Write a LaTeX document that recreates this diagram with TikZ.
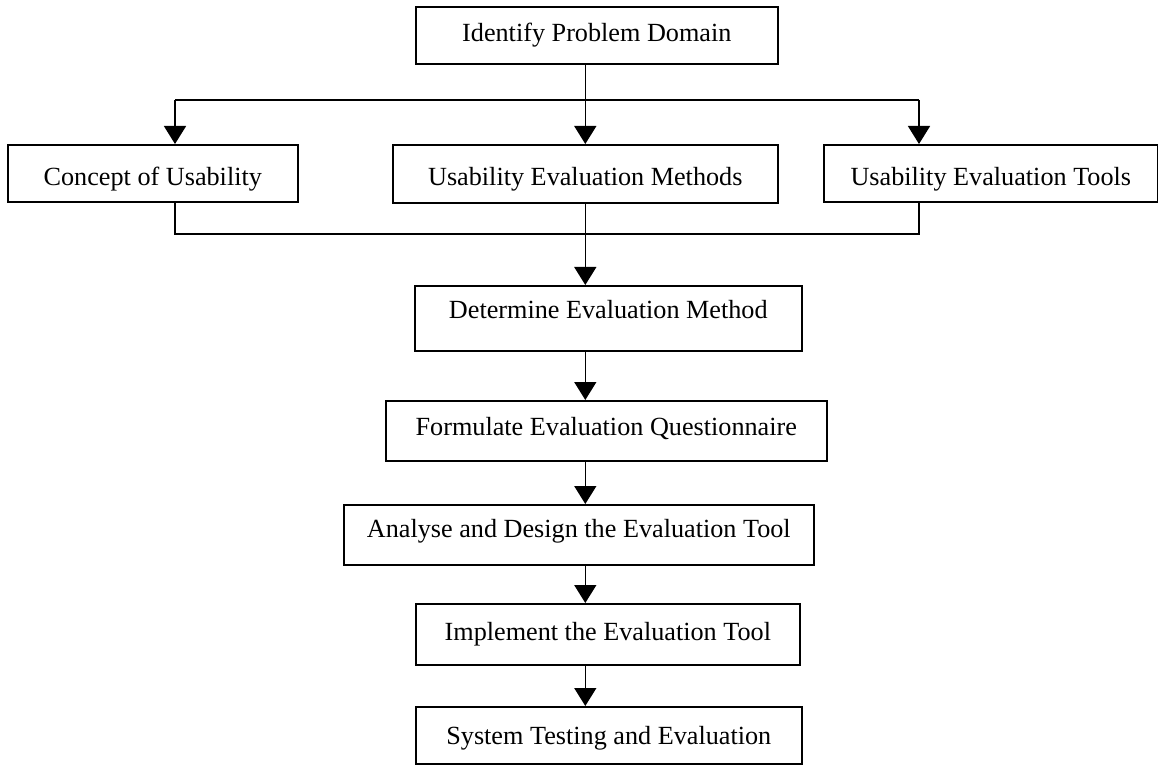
\documentclass[tikz,border=0pt]{standalone}
\usepackage{fontspec}
\setmainfont{Liberation Serif}
\usetikzlibrary{arrows.meta}

\begin{document}
\begin{tikzpicture}[x=0.5pt,y=-0.5pt,
    box/.style={draw=black, line width=0.8pt, rectangle, inner sep=0pt, anchor=north west, font=\fontsize{13.1}{15}\selectfont},
    flow/.style={draw=black, line width=0.75pt, -{Triangle[width=11pt,length=9pt]}},
    link/.style={draw=black, line width=0.75pt}]
    \useasboundingbox (0,0) rectangle (1158,765);
            \node [box, minimum width=181pt, text height=17.5pt, text depth=11pt] (identify) at (415,6) {Identify Problem Domain};      % top step
            \node [box, minimum width=145pt, text height=20.5pt, text depth=8pt] (concept) at (7,144) {Concept of Usability};          % left topic
            \node [box, minimum width=192.5pt, text height=20.5pt, text depth=8.5pt] (methods) at (392,144) {Usability Evaluation Methods}; % middle topic
            \node [box, minimum width=167pt, text height=20.5pt, text depth=8pt] (tools) at (823,144) {Usability Evaluation Tools};     % right topic
            \node [box, minimum width=193.5pt, text height=16.5pt, text depth=16pt] (determine) at (414,285) {Determine Evaluation Method};
            \node [box, minimum width=220.5pt, text height=17.5pt, text depth=12.5pt] (formulate) at (385,400) {Formulate Evaluation Questionnaire};
            \node [box, minimum width=235pt, text height=16.5pt, text depth=13.5pt] (design) at (343,504) {Analyse and Design the Evaluation Tool};
            \node [box, minimum width=192pt, text height=18.5pt, text depth=12pt] (implement) at (415,603) {Implement the Evaluation Tool};
            \node [box, minimum width=193pt, text height=19pt, text depth=9.5pt] (testing) at (415,706) {System Testing and Evaluation};
            \coordinate (splitL) at (175,100);             % fork, left end
            \coordinate (splitR) at (919,100);             % fork, right end
            \coordinate (mergeL) at (175,234);             % merge, left end
            \coordinate (mergeR) at (919,234);             % merge, right end
            \draw [link] (splitL) -- (splitR);             % fork line
            \draw [flow] (methods.north |- identify.south) -- (methods.north);
            \draw [flow] (splitL) -- (splitL |- concept.north);
            \draw [flow] (splitR) -- (splitR |- tools.north);
            \draw [link] (concept.south -| mergeL) -- (mergeL) -- (mergeR) -- (tools.south -| mergeR); % merge line
            \draw [flow] (methods.south) -- (methods.south |- determine.north);
            \draw [flow] (determine.south -| methods.south) -- (formulate.north -| methods.south);
            \draw [flow] (formulate.south -| methods.south) -- (design.north -| methods.south);
            \draw [flow] (design.south -| methods.south) -- (implement.north -| methods.south);
            \draw [flow] (implement.south -| methods.south) -- (testing.north -| methods.south);
    \end{tikzpicture}
\end{document}
